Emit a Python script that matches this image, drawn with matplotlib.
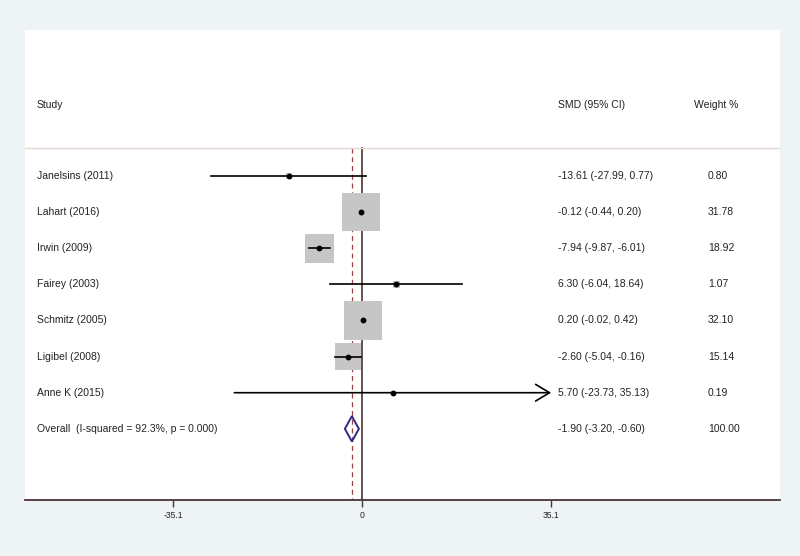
import matplotlib.pyplot as plt
from matplotlib.patches import Polygon
import numpy as np

plt.rcParams['font.family'] = ['Liberation Sans', 'DejaVu Sans']

# study data
studies = ['Janelsins (2011)', 'Lahart (2016)', 'Irwin (2009)', 'Fairey (2003)',
           'Schmitz (2005)', 'Ligibel (2008)', 'Anne K (2015)']
smd = [-13.61, -0.12, -7.94, 6.30, 0.20, -2.60, 5.70]
ci_lo = [-27.99, -0.44, -9.87, -6.04, -0.02, -5.04, -23.73]
ci_hi = [0.77, 0.20, -6.01, 18.64, 0.42, -0.16, 35.13]
weights = [0.80, 31.78, 18.92, 1.07, 32.10, 15.14, 0.19]

overall_label = 'Overall  (I-squared = 92.3%, p = 0.000)'
overall = -1.90
overall_lo = -3.20
overall_hi = -0.60

xticks = [-35.1, 0, 35.1]
xmin, xmax = -62.6, 77.6

bg = '#eef3f6'
fig = plt.figure(figsize=(8, 5.56), dpi=100, facecolor=bg)
ax = fig.add_axes([25/800, 56/556, 755/800, 470/556])
ax.set_facecolor('white')

n = len(studies)
rows = np.arange(n)
ax.set_xlim(xmin, xmax)
ax.set_ylim(8.97, -4.04)

fs = 7.5
tc = '#222222'
col_study = -60.4
col_smd = 36.4
col_w_head = 61.6
col_w = 64.2

# header
ax.text(col_study, -1.97, 'Study', fontsize=fs, va='center', color=tc)
ax.text(col_smd, -1.97, 'SMD (95% CI)', fontsize=fs, va='center', color=tc)
ax.text(col_w_head, -1.97, 'Weight %', fontsize=fs, va='center', color=tc)
ax.axhline(-0.78, color='#e3d6d6', lw=1.0)

# reference lines
ax.plot([0, 0], [-0.78, 8.97], color='#4a3434', lw=1.2, zorder=1)
ax.plot([overall, overall], [-0.78, 8.97], color='#c8302c', lw=0.9,
        ls=(0, (4, 3)), zorder=1)

# weight boxes
ax.scatter(smd, rows, s=np.array(weights) * 23.5, marker='s',
           color='#c6c6c6', edgecolors='none', zorder=2)

# CIs
for i in range(n):
    hi = min(ci_hi[i], xticks[-1])
    if ci_hi[i] > xticks[-1]:
        ax.annotate('', xy=(hi, rows[i]), xytext=(ci_lo[i], rows[i]),
                    arrowprops=dict(arrowstyle='->,head_length=1.0,head_width=0.6',
                                    lw=1.2, color='black', shrinkA=0, shrinkB=0),
                    zorder=3)
    else:
        ax.plot([ci_lo[i], hi], [rows[i], rows[i]], color='black', lw=1.2, zorder=3)
ax.plot(smd, rows, 'o', color='black', ms=3.2, zorder=4)

# overall diamond
yo = n
h = 0.35
ax.add_patch(Polygon([[overall_lo, yo], [overall, yo - h], [overall_hi, yo],
                      [overall, yo + h]], closed=True, fill=False,
                     edgecolor='#2f2a86', lw=1.4, zorder=4))

# labels and columns
labels = studies + [overall_label]
est = smd + [overall]
los = ci_lo + [overall_lo]
his = ci_hi + [overall_hi]
wts = weights + [100.00]
for i in range(n + 1):
    ax.text(col_study, i, labels[i], fontsize=fs, va='center', color=tc)
    ax.text(col_smd, i, f'{est[i]:.2f} ({los[i]:.2f}, {his[i]:.2f})',
            fontsize=fs, va='center', color=tc)
    ax.text(col_w, i, f'{wts[i]:.2f}', fontsize=fs, va='center', color=tc)

# axis
for side in ['top', 'left', 'right']:
    ax.spines[side].set_visible(False)
ax.spines['bottom'].set_color('#4a3434')
ax.spines['bottom'].set_linewidth(1.3)
ax.set_yticks([])
ax.set_xticks(xticks)
ax.set_xticklabels(['-35.1', '0', '35.1'])
ax.tick_params(axis='x', direction='out', length=5, width=1, color='#4a3434',
               labelsize=6.2, labelcolor=tc, pad=3)

fig.savefig('out.png', dpi=100, facecolor=bg)
